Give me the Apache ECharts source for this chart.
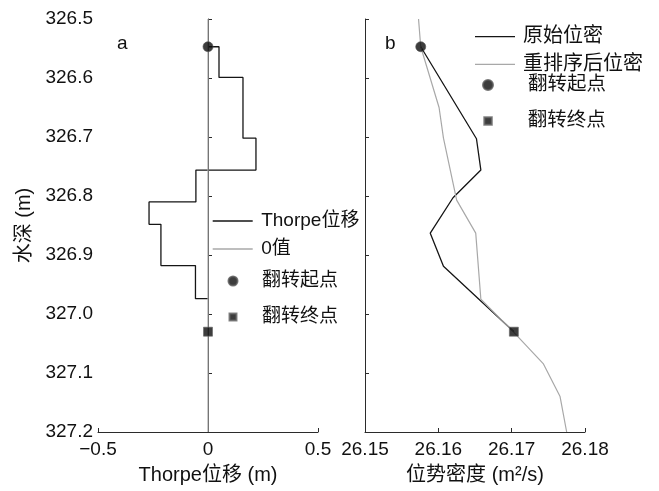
<!DOCTYPE html>
<html>
<head>
<meta charset="utf-8">
<script src="https://cdn.jsdelivr.net/npm/echarts@6/dist/echarts.min.js"></script>
<style>html,body{margin:0;padding:0;background:#fff}#c{width:659px;height:491px}</style>
</head>
<body>
<div id="c"></div>
<script>
// ---- data ----
const depthRange = [326.5, 327.2];
const dispRange = [-0.5, 0.5];
const densRange = [26.15, 26.18];
// Thorpe displacement stairs: layer edges (depth, m) and value in each layer (m)
const stepEdges = [326.547, 326.599, 326.702, 326.756, 326.810, 326.848, 326.918, 326.974];
const stepValues = [0.05, 0.159, 0.218, -0.055, -0.268, -0.214, -0.057];
const zeroDisp = [0, 0];
const zeroDepth = [326.5, 327.2];
// overturn start / end
const startDepth = 326.547, startDisp = 0, startDens = 26.1576;
const endDepth = 327.030, endDisp = 0, endDens = 26.1703;
// original potential density
const origDepth = [326.547, 326.703, 326.756, 326.803, 326.863, 326.919, 327.030];
const origDens  = [26.1576, 26.1652, 26.1658, 26.1620, 26.1589, 26.1607, 26.1703];
// re-sorted potential density
const sortDepth = [326.5, 326.547, 326.650, 326.702, 326.807, 326.863, 326.975, 327.030, 327.084, 327.140, 327.2];
const sortDens  = [26.1573, 26.1576, 26.1601, 26.1607, 26.1625, 26.1651, 26.1658, 26.1702, 26.1743, 26.1766, 26.1775];

// ---- build ----
const stairs = [[0, stepEdges[0]]];
for (let i = 0; i < stepValues.length; i++) {
  stairs.push([stepValues[i], stepEdges[i]]);
  stairs.push([stepValues[i], stepEdges[i + 1]]);
}
stairs.push([0, stepEdges[stepEdges.length - 1]]);
const zip = (a, b) => a.map((v, i) => [v, b[i]]);

const FONT = '"Liberation Sans", Arial, "Noto Sans CJK SC", sans-serif';
const AX = '#2b2b2b';
const BLACK = '#151515';
const GRAY = '#a8a8a8';

const commonAxis = {
  axisLine: {show: true, lineStyle: {color: AX, width: 1}},
  axisTick: {show: true, inside: true, length: 4, lineStyle: {color: AX}},
  splitLine: {show: false},
  axisLabel: {color: '#111', fontSize: 19, fontFamily: FONT, margin: 8},
  nameTextStyle: {color: '#111', fontSize: 20, fontFamily: FONT}
};
const minus = s => String(s).replace('-', '\u2212');

const circleStyle = {color: '#0d0d0d', borderColor: '#555', borderWidth: 0.8};
const squareStyle = {color: '#0d0d0d', borderColor: '#666', borderWidth: 0.8};

const LH = 20;
// legend item: icon box (iw x ih) at left, centred on cy, text offset by padLeft
function legendItem(name, icon, left, cy, iw, ih, padLeft, fs) {
  return {
    data: [{name: name, icon: icon}], left: left, top: cy - LH / 2, orient: 'vertical', padding: 0,
    itemWidth: iw, itemHeight: ih, selectedMode: false,
    textStyle: {fontSize: fs, lineHeight: LH, fontFamily: FONT, color: '#111', padding: [0, 0, 0, padLeft]}
  };
}

const option = {
  animation: false,
  backgroundColor: '#fff',
  grid: [
    {left: 98, top: 19, width: 220, height: 413},
    {left: 365, top: 19, width: 220, height: 413}
  ],
  title: [
    {text: 'a', left: 112, top: 29, textStyle: {fontSize: 19, fontWeight: 'normal', fontFamily: FONT, color: '#111'}},
    {text: 'b', left: 380, top: 29, textStyle: {fontSize: 19, fontWeight: 'normal', fontFamily: FONT, color: '#111'}}
  ],
  xAxis: [
    Object.assign({}, commonAxis, {
      gridIndex: 0, type: 'value', min: dispRange[0], max: dispRange[1], interval: 0.5,
      name: 'Thorpe位移 (m)', nameLocation: 'middle', nameGap: 33,
      axisLabel: Object.assign({}, commonAxis.axisLabel, {formatter: v => minus(v)})
    }),
    Object.assign({}, commonAxis, {
      gridIndex: 1, type: 'value', min: densRange[0], max: densRange[1], interval: 0.01,
      name: '位势密度 (m²/s)', nameLocation: 'middle', nameGap: 33,
      axisLabel: Object.assign({}, commonAxis.axisLabel, {formatter: v => v.toFixed(2)})
    })
  ],
  yAxis: [
    Object.assign({}, commonAxis, {
      gridIndex: 0, type: 'value', inverse: true, min: depthRange[0], max: depthRange[1], interval: 0.1,
      name: '水深 (m)', nameLocation: 'middle', nameGap: 64, nameRotate: 90,
      axisLabel: Object.assign({}, commonAxis.axisLabel, {margin: 5, formatter: v => v.toFixed(1)})
    }),
    Object.assign({}, commonAxis, {
      gridIndex: 1, type: 'value', inverse: true, min: depthRange[0], max: depthRange[1], interval: 0.1,
      axisLabel: {show: false}
    })
  ],
  legend: [
    legendItem('Thorpe位移', 'rect', 212.7, 221, 40, 1.3, 3.5, 19),
    legendItem('0值', 'rect', 212.7, 249, 40, 1.3, 3.5, 19),
    legendItem('翻转起点', 'circle', 227.5, 281, 9, 9, 19.5, 19),
    legendItem('翻转终点', 'rect', 228.5, 317, 7, 7, 20.5, 19),
    legendItem('原始位密', 'rect', 475, 36.7, 40, 1.3, 3, 20),
    legendItem('重排序后位密', 'rect', 475, 64.3, 40, 1.3, 3, 20),
    legendItem('翻转起点', 'circle', 482, 85, 10, 10, 30, 19.5),
    legendItem('翻转终点', 'rect', 483.3, 121, 7.5, 7.5, 31, 19.5)
  ],
  series: [
    {name: 'Thorpe位移', type: 'line', xAxisIndex: 0, yAxisIndex: 0, data: stairs,
     symbol: 'none', lineStyle: {color: BLACK, width: 1.3}, itemStyle: {color: BLACK}, z: 2},
    {name: '0值', type: 'line', xAxisIndex: 0, yAxisIndex: 0, data: zip(zeroDisp, zeroDepth),
     symbol: 'none', lineStyle: {color: GRAY, width: 1.2}, itemStyle: {color: GRAY}, z: 3},
    {name: '翻转起点', type: 'scatter', xAxisIndex: 0, yAxisIndex: 0, data: [[startDisp, startDepth]],
     symbol: 'circle', symbolSize: 10, itemStyle: circleStyle, z: 5},
    {name: '翻转终点', type: 'scatter', xAxisIndex: 0, yAxisIndex: 0, data: [[endDisp, endDepth]],
     symbol: 'rect', symbolSize: 9, itemStyle: squareStyle, z: 5},
    {name: '原始位密', type: 'line', xAxisIndex: 1, yAxisIndex: 1, data: zip(origDens, origDepth),
     symbol: 'none', lineStyle: {color: BLACK, width: 1.3}, itemStyle: {color: BLACK}, z: 2},
    {name: '重排序后位密', type: 'line', xAxisIndex: 1, yAxisIndex: 1, data: zip(sortDens, sortDepth),
     symbol: 'none', lineStyle: {color: GRAY, width: 1.2}, itemStyle: {color: GRAY}, z: 3},
    {name: '翻转起点', type: 'scatter', xAxisIndex: 1, yAxisIndex: 1, data: [[startDens, startDepth]],
     symbol: 'circle', symbolSize: 10, itemStyle: circleStyle, z: 5},
    {name: '翻转终点', type: 'scatter', xAxisIndex: 1, yAxisIndex: 1, data: [[endDens, endDepth]],
     symbol: 'rect', symbolSize: 9, itemStyle: squareStyle, z: 5}
  ]
};
const chart = echarts.init(document.getElementById('c'), null, {renderer: 'canvas'});
chart.setOption(option);
</script>
</body>
</html>
